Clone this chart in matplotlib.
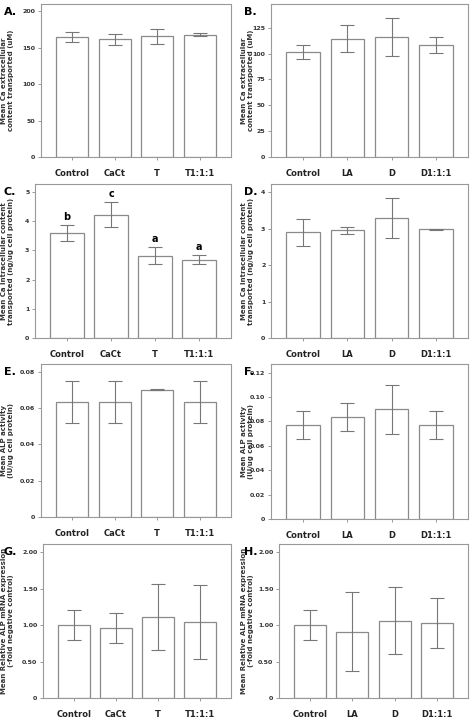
import matplotlib

matplotlib.use("Agg")
from matplotlib import pyplot as plt

GROUPS_T = ["Control", "CaCt", "T", "T1:1:1"]
GROUPS_D = ["Control", "LA", "D", "D1:1:1"]

A_MEAN = [164.5, 161.5, 165.5, 168.0]
A_ERR = [6.5, 7.5, 10.5, 2.5]
B_MEAN = [101.5, 114.5, 116.0, 108.5]
B_ERR = [7.0, 13.0, 18.5, 8.0]
C_MEAN = [3.60, 4.22, 2.82, 2.68]
C_ERR = [0.27, 0.43, 0.28, 0.15]
C_LETTERS = ["b", "c", "a", "a"]
D_MEAN = [2.90, 2.95, 3.30, 2.98]
D_ERR = [0.37, 0.10, 0.55, 0.02]
E_MEAN = [0.0633, 0.0633, 0.0700, 0.0633]
E_ERR = [0.0115, 0.0115, 0.0002, 0.0115]
F_MEAN = [0.077, 0.0835, 0.090, 0.077]
F_ERR = [0.0115, 0.0115, 0.020, 0.0115]
G_MEAN = [1.00, 0.96, 1.11, 1.04]
G_ERR = [0.20, 0.20, 0.45, 0.51]
H_MEAN = [1.00, 0.91, 1.06, 1.03]
H_ERR = [0.20, 0.54, 0.46, 0.34]

YLAB_CA_EX = "Mean Ca extracellular\ncontent transported (uM)"
YLAB_CA_IN = "Mean Ca intracellular content\ntransported (ng/ug cell protein)"
YLAB_ALP = "Mean ALP activity\n(IU/ug cell protein)"
YLAB_MRNA = "Mean Relative ALP mRNA expression\n(-fold negative control)"

W, H = 474, 719
EDGE = "#8a8a8a"


def panel(fig, box, letter, col_x, groups, means, errs, ylim, ticks, ticklabels, ylabel, letters=None):
    left, top, right, bottom = box
    ax = fig.add_axes([left / W, 1 - bottom / H, (right - left) / W, (bottom - top) / H])
    x = list(range(len(groups)))
    ax.bar(x, means, width=0.76, color="white", edgecolor=EDGE, linewidth=0.9)
    ax.errorbar(x, means, yerr=errs, fmt="none", ecolor="#777777", elinewidth=0.8, capsize=5, capthick=0.8)
    ax.set_xlim(-0.73, 3.73)
    ax.set_ylim(*ylim)
    ax.set_yticks(ticks)
    ax.set_yticklabels(ticklabels, fontsize=4.5, fontweight="bold", color="#333333")
    ax.set_xticks(x)
    ax.set_xticklabels(groups, fontsize=6, fontweight="bold", color="#222222")
    ax.tick_params(length=2.5, width=0.6, color=EDGE, pad=1.5)
    ax.tick_params(axis="x", pad=6)
    for spine in ax.spines.values():
        spine.set_color("#999999")
        spine.set_linewidth(0.8)
    ax.set_ylabel(ylabel, fontsize=5, fontweight="bold", color="#333333")
    ax.yaxis.set_label_coords((col_x + 14 - left) / (right - left), 0.5)
    if letters:
        for xi, m, e, t in zip(x, means, errs, letters):
            ax.text(xi, m + e + ylim[1] * 0.02, t, ha="center", va="bottom", fontsize=7, fontweight="bold")
    fig.text((col_x + 4) / W, 1 - (top + 8) / H, letter, fontsize=8, fontweight="bold", va="center")
    return ax


fig = plt.figure(figsize=(W / 100, H / 100), dpi=100)

panel(fig, (41, 4, 231, 157), "A.", 0, GROUPS_T, A_MEAN, A_ERR, (0, 210),
      [0, 50, 100, 150, 200], ["0", "50", "100", "150", "200"], YLAB_CA_EX)
panel(fig, (271, 4, 468, 157), "B.", 240, GROUPS_D, B_MEAN, B_ERR, (0, 148),
      [0, 25, 50, 75, 100, 125], ["0", "25", "50", "75", "100", "125"], YLAB_CA_EX)
panel(fig, (35, 184, 231, 338), "C.", 0, GROUPS_T, C_MEAN, C_ERR, (0, 5.27),
      [0, 1, 2, 3, 4, 5], ["0", "1", "2", "3", "4", "5"], YLAB_CA_IN, letters=C_LETTERS)
panel(fig, (271, 184, 468, 338), "D.", 240, GROUPS_D, D_MEAN, D_ERR, (0, 4.22),
      [0, 1, 2, 3, 4], ["0", "1", "2", "3", "4"], YLAB_CA_IN)
panel(fig, (41, 364, 231, 517), "E.", 0, GROUPS_T, E_MEAN, E_ERR, (0, 0.0842),
      [0, 0.02, 0.04, 0.06, 0.08], ["0", "0.02", "0.04", "0.06", "0.08"], YLAB_ALP)
panel(fig, (271, 364, 468, 519), "F.", 240, GROUPS_D, F_MEAN, F_ERR, (0, 0.127),
      [0, 0.02, 0.04, 0.06, 0.08, 0.10, 0.12],
      ["0", "0.02", "0.04", "0.06", "0.08", "0.10", "0.12"], YLAB_ALP)
panel(fig, (43, 544, 231, 698), "G.", 0, GROUPS_T, G_MEAN, G_ERR, (0, 2.11),
      [0, 0.5, 1.0, 1.5, 2.0], ["0", "0.50", "1.00", "1.50", "2.00"], YLAB_MRNA)
panel(fig, (279, 544, 468, 698), "H.", 240, GROUPS_D, H_MEAN, H_ERR, (0, 2.11),
      [0, 0.5, 1.0, 1.5, 2.0], ["0", "0.50", "1.00", "1.50", "2.00"], YLAB_MRNA)

fig.savefig("out.png", dpi=100)
